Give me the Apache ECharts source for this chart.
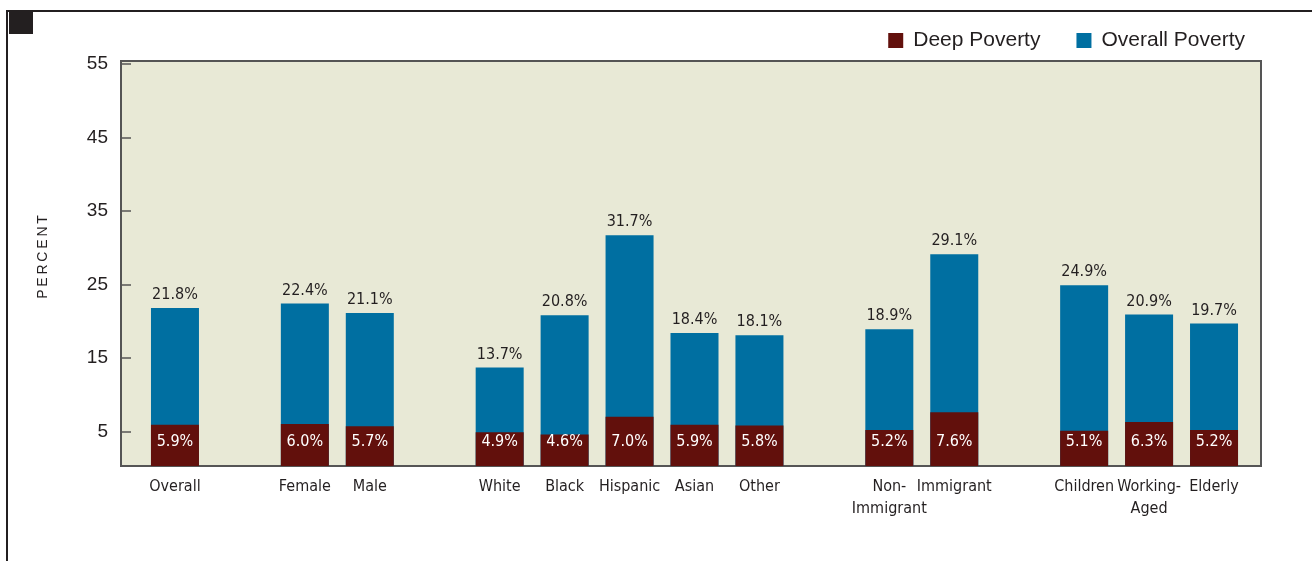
<!DOCTYPE html>
<html>
<head>
<meta charset="utf-8">
<script src="https://cdn.jsdelivr.net/npm/echarts@6/dist/echarts.min.js"></script>
<style>html,body{margin:0;padding:0;background:#fff}#c{width:1312px;height:561px}</style>
</head>
<body>
<div id="c"></div>
<script>
const categories = ['Overall', '', 'Female', 'Male', '', 'White', 'Black', 'Hispanic', 'Asian', 'Other', '', 'Non-\nImmigrant', 'Immigrant', '', 'Children', 'Working-\nAged', 'Elderly'];
const overallPoverty = [21.8, '-', 22.4, 21.1, '-', 13.7, 20.8, 31.7, 18.4, 18.1, '-', 18.9, 29.1, '-', 24.9, 20.9, 19.7];
const deepPoverty = [5.9, '-', 6.0, 5.7, '-', 4.9, 4.6, 7.0, 5.9, 5.8, '-', 5.2, 7.6, '-', 5.1, 6.3, 5.2];
const yTicks = [5, 15, 25, 35, 45, 55];

const narrow = "'DejaVu Sans Condensed', 'Liberation Sans', Arial, sans-serif";
const regular = "'Liberation Sans', Arial, sans-serif";
const YMIN = 0.3, YMAX = 55.4;

const chart = echarts.init(document.getElementById('c'));
chart.setOption({
  animation: false,
  backgroundColor: '#ffffff',
  legend: {
    top: 25, right: 62,
    itemWidth: 15, itemHeight: 15, itemGap: 36,
    icon: 'rect',
    data: ['Deep Poverty', 'Overall Poverty'],
    textStyle: { fontFamily: regular, fontSize: 21, color: '#231f20', padding: [0, 0, 0, 5] }
  },
  grid: [
    { left: 121, top: 61, width: 1140, height: 405, show: true, backgroundColor: '#e8e9d6', borderColor: '#555555', borderWidth: 2 },
    { left: 142.5, top: 61, width: 1104, height: 405 }
  ],
  xAxis: [
    { gridIndex: 0, type: 'category', data: [''], show: false },
    { gridIndex: 1, type: 'category', data: categories,
      axisLine: { show: false }, axisTick: { show: false },
      axisLabel: { interval: 0, margin: 10, fontFamily: narrow, fontSize: 16, color: '#231f20', lineHeight: 22 } }
  ],
  yAxis: [
    { gridIndex: 0, type: 'value', min: YMIN, max: YMAX,
      axisLine: { show: true, lineStyle: { color: '#555555', width: 2 } },
      axisTick: { show: true, inside: true, length: 10, customValues: yTicks, lineStyle: { color: '#555555', width: 1.5 } },
      axisLabel: { customValues: yTicks, margin: 13, fontFamily: regular, fontSize: 19, color: '#231f20' },
      splitLine: { show: false } },
    { gridIndex: 1, type: 'value', min: YMIN, max: YMAX, show: false, splitLine: { show: false } }
  ],
  series: [
    { name: 'Overall Poverty', type: 'bar', xAxisIndex: 1, yAxisIndex: 1, data: overallPoverty,
      barWidth: 48, barGap: '-100%',
      itemStyle: { color: '#006fa1' },
      label: { show: true, position: 'top', distance: 5, formatter: p => p.value.toFixed(1) + '%',
        fontFamily: narrow, fontSize: 16, color: '#231f20' } },
    { name: 'Deep Poverty', type: 'bar', xAxisIndex: 1, yAxisIndex: 1, data: deepPoverty,
      barWidth: 48, barGap: '-100%',
      itemStyle: { color: '#62100c' },
      label: { show: true, position: 'insideBottom', distance: 16, formatter: p => p.value.toFixed(1) + '%',
        fontFamily: narrow, fontSize: 16, color: '#ffffff' } }
  ],
  graphic: [
    { type: 'line', shape: { x1: 7, y1: 11, x2: 1312, y2: 11 }, style: { stroke: '#231f20', lineWidth: 2 } },
    { type: 'line', shape: { x1: 7, y1: 10, x2: 7, y2: 561 }, style: { stroke: '#231f20', lineWidth: 2 } },
    { type: 'rect', shape: { x: 9, y: 12, width: 24, height: 22 }, style: { fill: '#231f20' } },
    { type: 'text', x: 43, y: 257, rotation: Math.PI / 2,
      style: { text: 'P\u2009E\u2009R\u2009C\u2009E\u2009N\u2009T', fontFamily: regular, fontSize: 14, fill: '#231f20', align: 'center', verticalAlign: 'middle' } }
  ]
});
</script>
</body>
</html>
